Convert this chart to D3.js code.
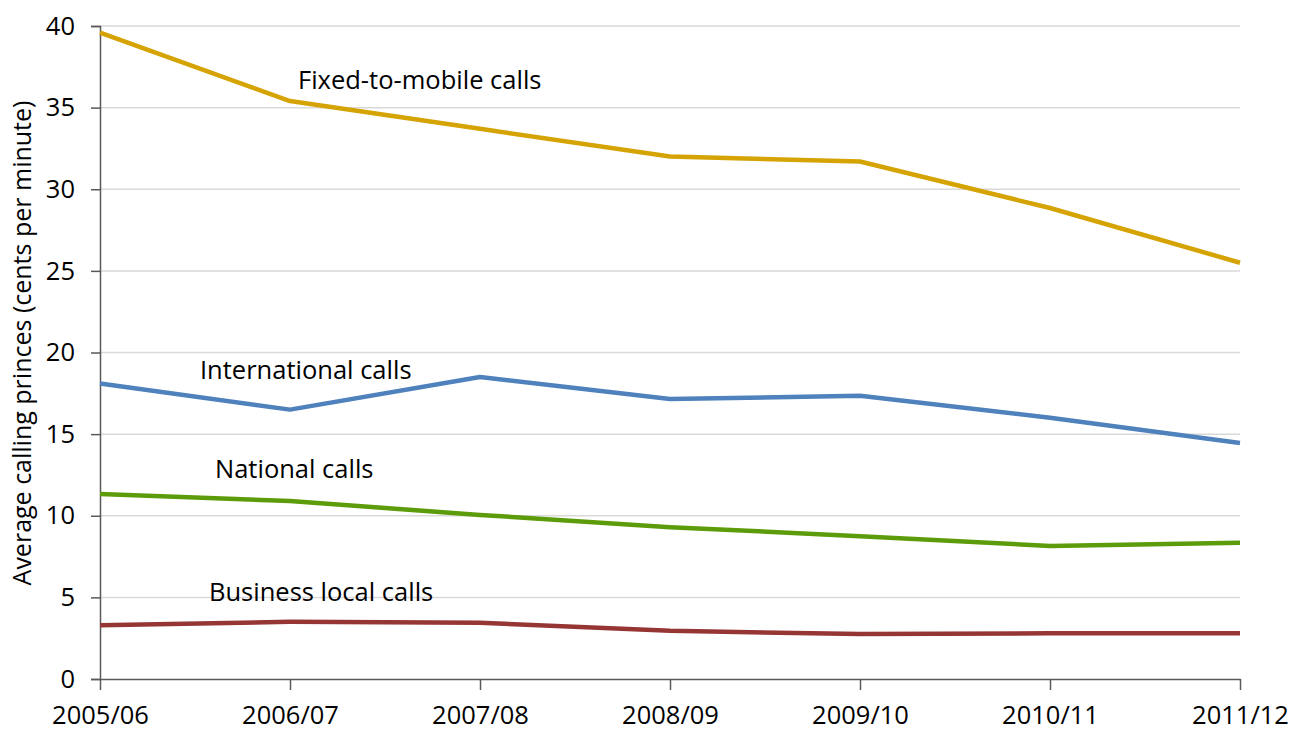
<!DOCTYPE html>
<html>
<head>
<meta charset="utf-8">
<script src="https://cdn.jsdelivr.net/npm/d3@7"></script>
<style>
  body { margin: 0; background: #fff; }
  text { font-family: "Open Sans", sans-serif; fill: #000; }
</style>
</head>
<body>
<svg id="chart" width="1308" height="733"></svg>
<script>
// data
var years = ["2005/06", "2006/07", "2007/08", "2008/09", "2009/10", "2010/11", "2011/12"];
var fixedToMobile = [39.6, 35.4, 33.7, 32.0, 31.7, 28.85, 25.5];
var international = [18.1, 16.5, 18.5, 17.15, 17.35, 16.0, 14.45];
var national = [11.33, 10.9, 10.05, 9.3, 8.75, 8.15, 8.35];
var businessLocal = [3.3, 3.5, 3.45, 2.95, 2.75, 2.8, 2.8];
var yTicks = [0, 5, 10, 15, 20, 25, 30, 35, 40];

var series = [
  { name: "Fixed-to-mobile calls", values: fixedToMobile, color: "#D5A303", lx: 298, ly: 80 },
  { name: "International calls", values: international, color: "#4F81BD", lx: 200, ly: 370 },
  { name: "National calls", values: national, color: "#5C9C0A", lx: 215, ly: 469 },
  { name: "Business local calls", values: businessLocal, color: "#963634", lx: 209, ly: 592 }
];

var svg = d3.select("#chart");
var mLeft = 100, mRight = 1240, mTop = 26, mBottom = 679;

var x = d3.scalePoint().domain(years).range([mLeft, mRight]);
var y = d3.scaleLinear().domain([0, 40]).range([mBottom, mTop]);

// gridlines
svg.append("g")
  .selectAll("line")
  .data(yTicks.filter(function(d){ return d > 0; }))
  .enter().append("line")
  .attr("x1", mLeft).attr("x2", mRight)
  .attr("y1", function(d){ return y(d); })
  .attr("y2", function(d){ return y(d); })
  .attr("stroke", "#d9d9d9")
  .attr("stroke-width", 1.5);

// y axis
var yAxis = svg.append("g")
  .attr("transform", "translate(" + mLeft + ",0)")
  .call(d3.axisLeft(y).tickValues(yTicks).tickSize(9).tickPadding(16));
yAxis.selectAll("line, path").attr("stroke", "#595959").attr("stroke-width", 1.5);
yAxis.selectAll("text").attr("font-size", 25.5).style("font-family", "'Open Sans', sans-serif").attr("fill", "#000");

// x axis
var xAxis = svg.append("g")
  .attr("transform", "translate(0," + mBottom + ")")
  .call(d3.axisBottom(x).tickSize(11).tickPadding(16).tickSizeOuter(0));
xAxis.selectAll("line, path").attr("stroke", "#595959").attr("stroke-width", 1.5);
xAxis.selectAll("text").attr("font-size", 25.5).style("font-family", "'Open Sans', sans-serif").attr("fill", "#000");

// lines
var line = d3.line()
  .x(function(d, i){ return x(years[i]); })
  .y(function(d){ return y(d); });

svg.append("g")
  .selectAll("path")
  .data(series)
  .enter().append("path")
  .attr("d", function(d){ return line(d.values); })
  .attr("fill", "none")
  .attr("stroke", function(d){ return d.color; })
  .attr("stroke-width", 4.5)
  .attr("stroke-linejoin", "round");

// series labels
svg.append("g")
  .selectAll("text")
  .data(series)
  .enter().append("text")
  .attr("x", function(d){ return d.lx; })
  .attr("y", function(d){ return d.ly; })
  .attr("dy", "0.35em")
  .attr("font-size", 25.5)
  .text(function(d){ return d.name; });

// axis title
svg.append("text")
  .attr("transform", "translate(31,343) rotate(-90)")
  .attr("text-anchor", "middle")
  .attr("font-size", 25)
  .text("Average calling princes (cents per minute)");
</script>
</body>
</html>
